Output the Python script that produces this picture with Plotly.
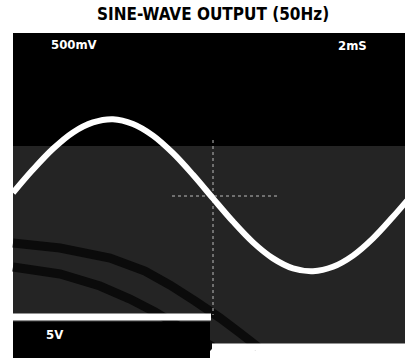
import plotly.graph_objects as go

# ---- data ----
# Channel 1: sine output, time in ms, voltage in mV (500 mV/div, 2 ms/div)
ch1_time_ms = [0, 1, 2, 3, 4, 5, 6, 7, 8, 9, 10, 11, 12, 13, 14, 15, 16, 17, 18, 19, 20]
ch1_mv = [40, 330, 590, 795, 920, 960, 900, 755, 535, 265, -30, -320, -580, -780, -905, -940, -885, -745, -530, -260, 30]

# Channel 2: square reference (5 V/div), time in ms, volts
ch2_time_ms = [0, 9.9, None, 9.95, 19.7]
ch2_v = [3.75, 3.75, None, 0.0, 0.0]

title_text = "SINE-WAVE OUTPUT (50Hz)"
ch1_scale = "500mV"
time_scale = "2mS"
ch2_scale = "5V"

W, H = 405, 360

def px(x):
    return x / W

def py(y):
    return 1 - y / H

fig = go.Figure()
fig.add_trace(go.Scatter(x=ch1_time_ms, y=ch1_mv, mode="lines",
                         line=dict(color="white", width=6, shape="spline", smoothing=1.0),
                         hoverinfo="skip"))
fig.add_trace(go.Scatter(x=ch2_time_ms, y=ch2_v, mode="lines", yaxis="y2",
                         line=dict(color="white", width=7),
                         hoverinfo="skip", connectgaps=False))

shapes = []
# screen: black top, dark grey lower part
shapes.append(dict(type="rect", xref="paper", yref="paper", x0=px(13), x1=px(406), y0=py(146), y1=py(33),
                   fillcolor="#000000", line=dict(width=0), layer="below"))
shapes.append(dict(type="rect", xref="paper", yref="paper", x0=px(13), x1=px(406), y0=py(347), y1=py(146),
                   fillcolor="#242424", line=dict(width=0), layer="below"))

def path_from(pts):
    return "M " + " L ".join("%f,%f" % (px(a), py(b)) for a, b in pts)

# dark reflection arcs
arc1 = [(13, 243), (60, 248), (110, 258), (145, 271), (170, 285), (195, 301), (220, 318), (240, 333), (258, 347)]
arc2 = [(13, 267), (60, 274), (100, 286), (130, 299), (155, 312), (180, 327), (200, 339), (213, 347)]
for arc in (arc1, arc2):
    shapes.append(dict(type="path", xref="paper", yref="paper", path=path_from(arc),
                       line=dict(color="#0b0b0b", width=9), layer="below"))

# black label box at bottom left
shapes.append(dict(type="rect", xref="paper", yref="paper", x0=px(13), x1=px(210), y0=py(358), y1=py(322),
                   fillcolor="#000000", line=dict(width=0), layer="below"))

# centre graticule (dotted)
shapes.append(dict(type="line", xref="paper", yref="paper", x0=px(172), x1=px(280), y0=py(196), y1=py(196),
                   line=dict(color="#bbbbbb", width=1, dash="dot"), layer="below"))
shapes.append(dict(type="line", xref="paper", yref="paper", x0=px(213), x1=px(213), y0=py(140), y1=py(315),
                   line=dict(color="#bbbbbb", width=1, dash="dot"), layer="below"))

annotations = [
    dict(text="<b>" + title_text + "</b>", x=px(213), y=py(14), xref="paper", yref="paper",
         showarrow=False, xanchor="center", yanchor="middle",
         font=dict(family="DejaVu Sans Condensed", size=17, color="black")),
    dict(text="<b>" + ch1_scale + "</b>", x=px(49), y=py(44), xref="paper", yref="paper",
         showarrow=False, xanchor="left", yanchor="middle",
         font=dict(family="DejaVu Sans Condensed", size=13, color="white")),
    dict(text="<b>" + time_scale + "</b>", x=px(336), y=py(45), xref="paper", yref="paper",
         showarrow=False, xanchor="left", yanchor="middle",
         font=dict(family="DejaVu Sans Condensed", size=13, color="white")),
    dict(text="<b>" + ch2_scale + "</b>", x=px(44), y=py(334), xref="paper", yref="paper",
         showarrow=False, xanchor="left", yanchor="middle",
         font=dict(family="DejaVu Sans Condensed", size=13, color="white")),
]

# axis ranges: window x = 13 + 20*t ; window y = 196 - 0.08*mV ; window y = 347 - 8*V
fig.update_layout(
    width=W, height=H, autosize=False,
    margin=dict(l=0, r=0, t=0, b=0),
    paper_bgcolor="white", plot_bgcolor="rgba(0,0,0,0)",
    showlegend=False,
    xaxis=dict(range=[(0 - 13) / 20, (405 - 13) / 20], visible=False, fixedrange=True),
    yaxis=dict(range=[(196 - 360) / 0.08, (196 - 0) / 0.08], visible=False, fixedrange=True),
    yaxis2=dict(range=[(347 - 360) / 8, (347 - 0) / 8], visible=False, overlaying="y", fixedrange=True),
    shapes=shapes,
    annotations=annotations,
)

fig.write_html("out.html", config={"displayModeBar": False},
               post_script="document.body.style.margin='0';")
